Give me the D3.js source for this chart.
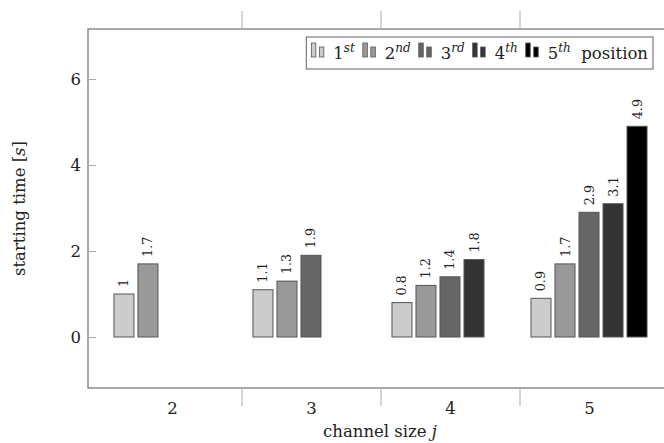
<!DOCTYPE html>
<html>
<head>
<meta charset="utf-8">
<script src="https://cdn.jsdelivr.net/npm/d3@7/dist/d3.min.js"></script>
<style>
  html, body { margin: 0; padding: 0; background: #fff; }
  svg { display: block; }
  svg text { font-family: "DejaVu Serif", serif; fill: #222; }
</style>
</head>
<body>
<svg id="chart" width="664" height="443"></svg>
<script>
// Channel sizes on the x axis
const channelSizes = [2, 3, 4, 5];
// Starting time [s] per position (null = position does not exist for that size)
const pos1 = [1, 1.1, 0.8, 0.9];
const pos2 = [1.7, 1.3, 1.2, 1.7];
const pos3 = [null, 1.9, 1.4, 2.9];
const pos4 = [null, null, 1.8, 3.1];
const pos5 = [null, null, null, 4.9];
const seriesValues = [pos1, pos2, pos3, pos4, pos5];
const seriesNames = ["1", "2", "3", "4", "5"];
const seriesSuffix = ["st", "nd", "rd", "th", "th"];
const seriesFill = ["#cccccc", "#999999", "#666666", "#333333", "#000000"];
const yTicks = [0, 2, 4, 6];
const xSeparators = [2.5, 3.5, 4.5];

const FONT = "DejaVu Serif";
const MAIN_SIZE = 16.5;

const svg = d3.select("#chart");

const plot = { left: 88, top: 29, right: 672, bottom: 388 };

const x = d3.scaleLinear().domain([1.396, 5.597]).range([plot.left, plot.right]);
const y = d3.scaleLinear().domain([-1.186, 7.163]).range([plot.bottom, plot.top]);

const unit = x(3) - x(2);
const barStep = unit * 0.1727;   // distance between neighbouring bars in a group
const barW = unit * 0.144;       // bar width

// plot frame
svg.append("rect")
  .attr("x", plot.left).attr("y", plot.top)
  .attr("width", plot.right - plot.left).attr("height", plot.bottom - plot.top)
  .attr("fill", "none").attr("stroke", "#7a7a7a").attr("stroke-width", 1.3);

function styleAxisText(g) {
  g.attr("font-family", FONT).attr("font-size", MAIN_SIZE);
  g.selectAll("text").attr("fill", "#222");
}

// y axis: inward ticks with labels on the left
const yAxis = svg.append("g")
  .attr("transform", `translate(${plot.left},0)`)
  .call(d3.axisLeft(y).tickValues(yTicks).tickFormat(d3.format("d"))
    .tickSizeInner(-8).tickSizeOuter(0).tickPadding(7));
yAxis.select(".domain").remove();
yAxis.selectAll("line").attr("stroke", "#aaa");
styleAxisText(yAxis);

const yAxisR = svg.append("g")
  .attr("transform", `translate(${plot.right},0)`)
  .call(d3.axisRight(y).tickValues(yTicks).tickSizeInner(-8).tickSizeOuter(0).tickFormat(""));
yAxisR.select(".domain").remove();
yAxisR.selectAll("line").attr("stroke", "#aaa");

// x axis: separators between groups extend outward, labels at group centres
const xSepBottom = svg.append("g")
  .attr("transform", `translate(0,${plot.bottom})`)
  .call(d3.axisBottom(x).tickValues(xSeparators).tickSizeInner(18).tickSizeOuter(0).tickFormat(""));
xSepBottom.select(".domain").remove();
xSepBottom.selectAll("line").attr("stroke", "#aaa");

const xSepTop = svg.append("g")
  .attr("transform", `translate(0,${plot.top})`)
  .call(d3.axisTop(x).tickValues(xSeparators).tickSizeInner(18).tickSizeOuter(0).tickFormat(""));
xSepTop.select(".domain").remove();
xSepTop.selectAll("line").attr("stroke", "#aaa");

const xLabels = svg.append("g")
  .attr("transform", `translate(0,${plot.bottom})`)
  .call(d3.axisBottom(x).tickValues(channelSizes).tickFormat(d3.format("d"))
    .tickSize(0).tickPadding(14));
xLabels.select(".domain").remove();
styleAxisText(xLabels);

// bars
const bars = [];
seriesValues.forEach((vals, s) => {
  vals.forEach((v, i) => {
    if (v === null) return;
    bars.push({ s, size: channelSizes[i], v });
  });
});

const barG = svg.append("g");
barG.selectAll("rect").data(bars).enter().append("rect")
  .attr("x", d => x(d.size) + (d.s - 2) * barStep - barW / 2)
  .attr("y", d => y(d.v))
  .attr("width", barW)
  .attr("height", d => y(0) - y(d.v))
  .attr("fill", d => seriesFill[d.s])
  .attr("stroke", "#555")
  .attr("stroke-width", 1);

barG.selectAll("text").data(bars).enter().append("text")
  .attr("transform", d => `translate(${x(d.size) + (d.s - 2) * barStep},${y(d.v) - 7}) rotate(-90)`)
  .attr("text-anchor", "start")
  .attr("dominant-baseline", "central")
  .attr("font-size", 12.8)
  .text(d => String(d.v));

// axis titles
const yTitle = svg.append("text")
  .attr("transform", `translate(19,${(plot.top + plot.bottom) / 2}) rotate(-90)`)
  .attr("text-anchor", "middle")
  .attr("dominant-baseline", "central")
  .attr("font-size", MAIN_SIZE);
yTitle.append("tspan").text("starting time [");
yTitle.append("tspan").attr("font-style", "italic").text("s");
yTitle.append("tspan").text("]");

const xTitle = svg.append("text")
  .attr("x", 380)
  .attr("y", 437)
  .attr("text-anchor", "middle")
  .attr("font-size", MAIN_SIZE);
xTitle.append("tspan").text("channel size ");
xTitle.append("tspan").attr("font-style", "italic").text("j");

// legend
const legend = svg.append("g");
const legendBox = legend.append("rect")
  .attr("fill", "#fff").attr("stroke", "#7a7a7a").attr("stroke-width", 1.2);
const items = legend.append("g");
let lx = 0;
const baseY = 59;
seriesNames.forEach((name, s) => {
  const icon = items.append("g").attr("transform", `translate(${lx},0)`);
  icon.append("rect").attr("x", 0).attr("y", baseY - 16).attr("width", 4.5).attr("height", 14)
    .attr("fill", seriesFill[s]).attr("stroke", "#555").attr("stroke-width", 0.8);
  icon.append("rect").attr("x", 8).attr("y", baseY - 12).attr("width", 4.5).attr("height", 10)
    .attr("fill", seriesFill[s]).attr("stroke", "#555").attr("stroke-width", 0.8);
  lx += 22;
  const t = items.append("text").attr("x", lx).attr("y", baseY).attr("font-size", MAIN_SIZE);
  t.append("tspan").text(name);
  t.append("tspan").attr("font-size", 12).attr("font-style", "italic").attr("dy", -7).text(seriesSuffix[s]);
  if (s === seriesNames.length - 1) {
    t.append("tspan").attr("dy", 7).text("\u00a0\u00a0position");
  }
  lx += t.node().getComputedTextLength() + 8;
});
const legendRight = 653;
const legendW = lx - 8 + 10;
items.attr("transform", `translate(${legendRight - legendW + 5},0)`);
legendBox.attr("x", legendRight - legendW).attr("y", 37).attr("width", legendW).attr("height", 32);
</script>
</body>
</html>
